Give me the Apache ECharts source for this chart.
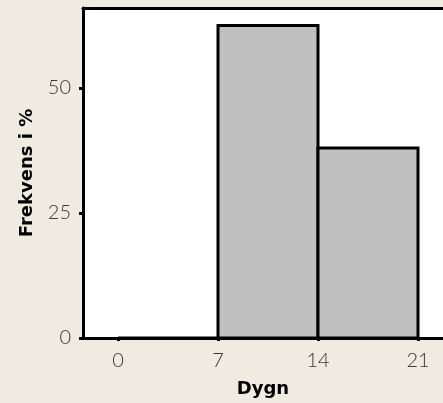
<!DOCTYPE html>
<html><head><meta charset="utf-8">
<script src="https://cdn.jsdelivr.net/npm/echarts@6/dist/echarts.min.js"></script>
<style>html,body{margin:0;padding:0;background:#EFEBE1}#c{width:443px;height:403px}</style>
</head><body><div id="c"></div>
<script>
const binStarts = [0, 7, 14];
const binEnds = [7, 14, 21];
const freqs = [0, 62.5, 38];
const xTicks = [0, 7, 14, 21];
const yTicks = [0, 25, 50];
const xTitle = 'Dygn';
const yTitle = 'Frekvens i %';

const data = binStarts.map((s, i) => [s, binEnds[i], freqs[i]]);
const chart = echarts.init(document.getElementById('c'), null, {renderer: 'canvas'});
const tickFont = {fontFamily: 'Lato', fontWeight: 300, fontSize: 20, color: '#3a3a3a'};
const xMin = -2.45, xMax = 22.75;
chart.setOption({
  backgroundColor: '#EFEBE1',
  animation: false,
  grid: {left: 83, top: 8, right: 0, bottom: 65, show: true, backgroundColor: '#fff', borderWidth: 0, containLabel: false},
  xAxis: [{
    type: 'value', min: xMin, max: xMax,
    name: xTitle, nameLocation: 'middle', nameGap: 42,
    nameTextStyle: {fontFamily: 'DejaVu Sans', fontWeight: 'bold', fontSize: 18, color: '#000'},
    axisLine: {show: true, onZero: false, lineStyle: {color: '#000', width: 3}},
    axisTick: {show: true, customValues: xTicks, length: 3, inside: false, lineStyle: {color: '#000', width: 3}},
    axisLabel: Object.assign({customValues: xTicks, margin: 13}, tickFont),
    splitLine: {show: false}
  }, {
    type: 'value', min: xMin, max: xMax, position: 'top',
    axisLine: {show: true, onZero: false, lineStyle: {color: '#000', width: 3}},
    axisTick: {show: false}, axisLabel: {show: false}, splitLine: {show: false}
  }],
  yAxis: {
    type: 'value', min: 0, max: 66,
    name: yTitle, nameLocation: 'middle', nameGap: 47, nameRotate: 90,
    nameTextStyle: {fontFamily: 'DejaVu Sans', fontWeight: 'bold', fontSize: 18, color: '#000'},
    axisLine: {show: true, onZero: false, lineStyle: {color: '#000', width: 3}},
    axisTick: {show: true, customValues: yTicks, length: 4, lineStyle: {color: '#000', width: 3}},
    axisLabel: Object.assign({customValues: yTicks, margin: 12}, tickFont),
    splitLine: {show: false}
  },
  series: [{
    type: 'custom',
    data: data,
    encode: {x: [0, 1], y: 2},
    renderItem: function (params, api) {
      const p0 = api.coord([api.value(0), api.value(2)]);
      const p1 = api.coord([api.value(1), 0]);
      return {
        type: 'rect',
        shape: {x: p0[0], y: p0[1], width: p1[0] - p0[0], height: p1[1] - p0[1]},
        style: {fill: '#C0C0C0', stroke: '#000', lineWidth: 3}
      };
    }
  }]
});
</script></body></html>
